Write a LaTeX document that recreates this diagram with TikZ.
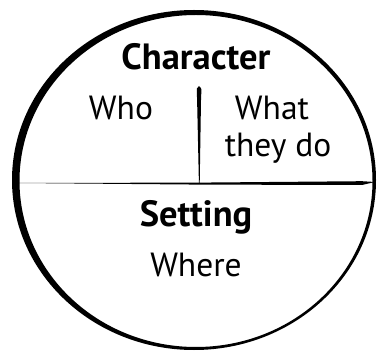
\documentclass[tikz,border=0pt]{standalone}
\usepackage{fontspec}
\setmainfont{PT Sans}
\usetikzlibrary{positioning}

\begin{document}
\begin{tikzpicture}[x=1pt, y=-1pt,
    heading/.style={font=\fontsize{36.5}{42}\selectfont\bfseries, anchor=base, inner sep=0pt},
    label/.style={font=\fontsize{33.5}{40}\selectfont, anchor=base, inner sep=0pt}]
  \useasboundingbox (0,0) rectangle (377,352);

  % brush outline
  \fill[even odd rule] (194,180) ellipse [x radius=182pt, y radius=170pt]
                       (196,181) ellipse [x radius=176.5pt, y radius=166pt];

  % dividers
  \fill (17,183) -- (200,182.6) -- (362,181.2) -- (375,182) -- (362,185)
        -- (200,184.6) -- cycle;
  \fill (199,86) .. controls (201.6,87) .. (201,100) -- (199.7,183) -- (198.9,183)
        -- (197.1,100) .. controls (196.6,87) .. (199,86);

  \node[heading] (character) at (196,70) {Character};
  \node[label] (who) at (121,120) {Who};
  \node[label] (what) at (272,120) {What};
  \node[label] (theydo) at (278,157) {they do};
  \node[heading] (setting) at (196,227) {Setting};
  \node[label] (where) at (196,277) {Where};
\end{tikzpicture}
\end{document}
